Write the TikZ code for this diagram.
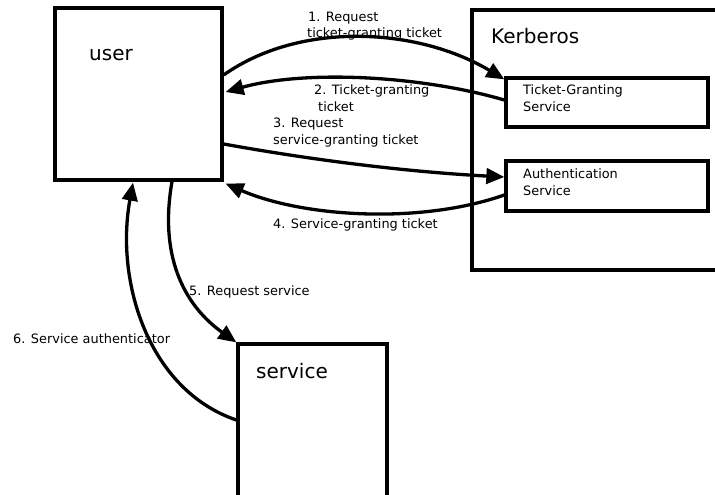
\documentclass[tikz,border=0pt]{standalone}
\usepackage{fontspec}
\setmainfont{DejaVu Sans}
\usetikzlibrary{arrows.meta,calc}
\begin{document}
\begin{tikzpicture}[x=1pt,y=-1pt,
  box/.style={draw,line width=3.3pt,inner sep=0pt,rectangle},
  title/.style={anchor=base west,inner sep=0pt,font=\fontsize{20}{24}\selectfont},
  small/.style={anchor=base west,inner sep=0pt,font=\fontsize{12.9}{16}\selectfont},
  flow/.style={line width=3.3pt,-{Triangle[length=18pt,width=15.5pt]}}]
\useasboundingbox (0,0) rectangle (715,495);

% main boxes
\node[box,minimum width=167pt,minimum height=172pt] (user) at (138.5,94) {};
\node[box,minimum width=258pt,minimum height=260pt] (kerberos) at (601,140) {};
\node[box,minimum width=202pt,minimum height=49pt] (tgs) at (607,102.5) {};
\node[box,minimum width=202pt,minimum height=50pt] (as) at (607,186) {};
\node[box,minimum width=149pt,minimum height=162pt] (service) at (312.5,425) {};

% box titles
\node[title] (usert) at (89,61) {user};
\node[title] (kerberost) at (491,44) {Kerberos};
\node[title] (servicet) at (256,378) {service};
\node[small] (tgst1) at (523,94) {Ticket-Granting};
\node[small] (tgst2) at (523,111) {Service};
\node[small] (ast1) at (523,178) {Authentication};
\node[small] (ast2) at (523,195) {Service};

% message labels
\node[small] (m1a) at (308,22) {1. Request};
\node[small] (m1b) at (307,38) {ticket-granting ticket};
\node[small] (m2a) at (314,95) {2. Ticket-granting};
\node[small] (m2b) at (318,111) {ticket};
\node[small] (m3a) at (273,128) {3. Request};
\node[small] (m3b) at (273,144) {service-granting ticket};
\node[small] (m4) at (273,228) {4. Service-granting ticket};
\node[small] (m5) at (189,295) {5. Request service};
\node[small] (m6) at (13,343) {6. Service authenticator};

% message flows
\draw[flow] ([yshift=19pt]user.east) .. controls +(78,-55) and +(-85,-51) .. ([yshift=-3pt]tgs.north west);
\draw[flow] ([yshift=2.5pt]tgs.west) .. controls +(-86,-25) and +(78,-22) .. ([xshift=2pt,yshift=2pt]user.east);
\draw[flow] ([yshift=-50pt]user.east) .. controls +(94,17) and +(-94,-5) .. ([yshift=9pt]as.west);
\draw[flow] ([yshift=-9pt]as.west) .. controls +(-86,30) and +(76,33) .. ([xshift=2pt,yshift=-2pt]user.south east);
\draw[flow] ([xshift=33.5pt]user.south) .. controls +(-14,80) and +(-48,-34) .. (service.north west);
\draw[flow] ([yshift=5pt]service.west) .. controls +(-88,-30) and +(-18,99) .. ([xshift=-5.5pt,yshift=-1pt]user.south);
\end{tikzpicture}
\end{document}
